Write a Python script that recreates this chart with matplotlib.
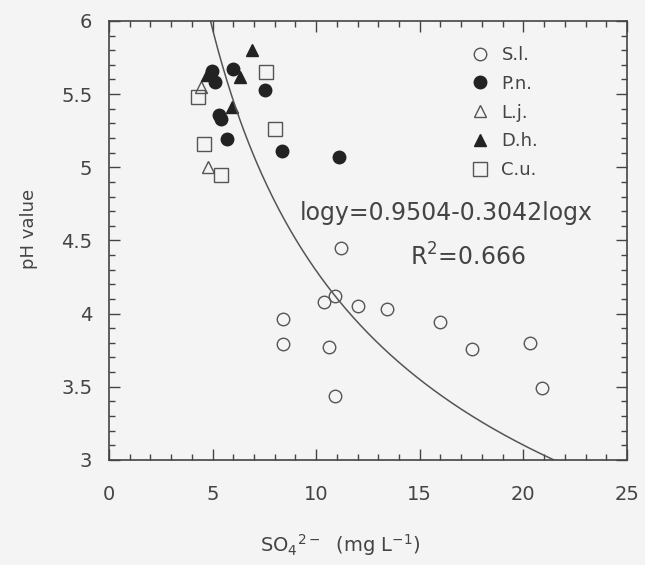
import matplotlib
matplotlib.use("Agg")
import matplotlib.pyplot as plt
import numpy as np
from matplotlib.ticker import MultipleLocator

# S.l.
sl_x = [8.4, 8.4, 10.4, 10.9, 12.0, 13.4, 16.0, 10.6, 17.5, 20.3, 10.9, 20.9, 11.2]
sl_y = [3.96, 3.79, 4.08, 4.12, 4.05, 4.03, 3.94, 3.77, 3.76, 3.80, 3.44, 3.49, 4.45]
# P.n.
pn_x = [4.95, 6.0, 5.1, 7.55, 5.3, 5.4, 5.7, 8.35, 11.1]
pn_y = [5.66, 5.67, 5.58, 5.53, 5.36, 5.33, 5.19, 5.11, 5.07]
# L.j.
lj_x = [4.45, 4.8]
lj_y = [5.55, 5.0]
# D.h.
dh_x = [6.9, 6.3, 5.95, 4.75]
dh_y = [5.80, 5.62, 5.41, 5.63]
# C.u.
cu_x = [7.6, 4.3, 8.0, 4.6, 5.4]
cu_y = [5.65, 5.48, 5.26, 5.16, 4.95]

# power fit as drawn in the figure
fit_a = 12.64
fit_b = -0.469

col = "#444444"
plt.rcParams["font.family"] = "DejaVu Sans"

fig = plt.figure(figsize=(6.45, 5.65), dpi=100, facecolor="#f4f4f4")
ax = fig.add_axes([0.169, 0.186, 0.803, 0.777])
ax.set_facecolor("#f4f4f4")

ms = 9
ax.plot(sl_x, sl_y, "o", ms=ms, mfc="none", mec="#555555", mew=1.0, label="S.l.")
ax.plot(pn_x, pn_y, "o", ms=ms, mfc="#222222", mec="#222222", label="P.n.")
ax.plot(lj_x, lj_y, "^", ms=ms, mfc="none", mec="#555555", mew=1.0, label="L.j.")
ax.plot(dh_x, dh_y, "^", ms=ms, mfc="#222222", mec="#222222", label="D.h.")
ax.plot(cu_x, cu_y, "s", ms=ms + 1, mfc="none", mec="#555555", mew=1.0, label="C.u.")

xs = np.linspace(4.0, 25, 300)
ax.plot(xs, fit_a * xs ** fit_b, color="#555555", lw=1.1)

ax.set_xlim(0, 25)
ax.set_ylim(3, 6)
ax.xaxis.set_major_locator(MultipleLocator(5))
ax.xaxis.set_minor_locator(MultipleLocator(1))
ax.yaxis.set_major_locator(MultipleLocator(0.5))
ax.yaxis.set_minor_locator(MultipleLocator(0.1))
ax.tick_params(which="both", direction="in", top=True, right=True, colors=col,
               labelsize=14)
ax.tick_params(axis="x", pad=18)
ax.tick_params(axis="y", pad=12)
ax.tick_params(which="major", length=8, width=1)
ax.tick_params(which="minor", length=4, width=1)
ax.set_yticks([3, 3.5, 4, 4.5, 5, 5.5, 6])
ax.set_yticklabels(["3", "3.5", "4", "4.5", "5", "5.5", "6"])
for s in ax.spines.values():
    s.set_color(col)
    s.set_linewidth(1.2)

ax.set_xlabel(r"SO$_4$$^{2-}$  (mg L$^{-1}$)", fontsize=14, color=col)
ax.xaxis.set_label_coords(0.446, -0.165)
ax.set_ylabel("pH value", fontsize=13, color=col)
ax.yaxis.set_label_coords(-0.138, 0.526)

ax.text(16.3, 4.69, "logy=0.9504-0.3042logx", fontsize=17, color=col,
        ha="center", va="center")
ax.text(17.3, 4.39, r"R$^2$=0.666", fontsize=17, color=col,
        ha="center", va="center")

ax.legend(loc="upper right", bbox_to_anchor=(0.86, 0.98), frameon=False,
          fontsize=13, labelcolor=col, handletextpad=0.6, labelspacing=0.6,
          handlelength=1.2)

fig.savefig("out.png", dpi=100, facecolor=fig.get_facecolor())
